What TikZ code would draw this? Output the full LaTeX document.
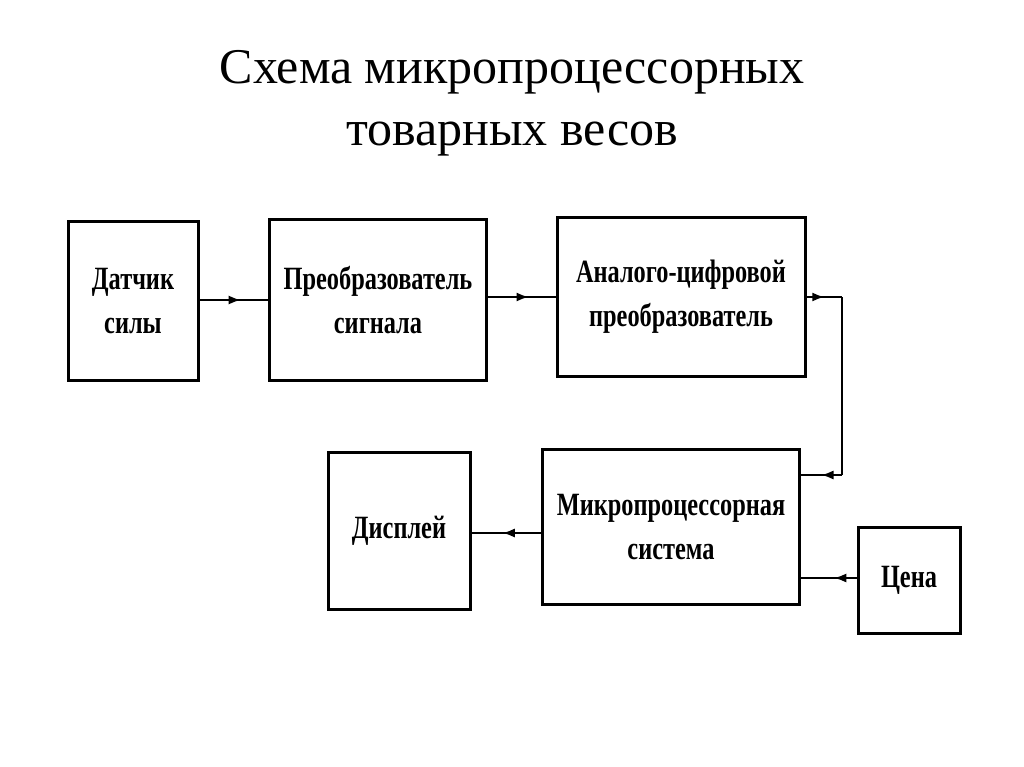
\documentclass[tikz,border=0pt]{standalone}
\usepackage{fontspec}
\setmainfont{Liberation Serif}
\usetikzlibrary{decorations.markings,arrows.meta}
\newcommand{\bt}[1]{\scalebox{0.84}[1.12]{\bfseries #1}}
\begin{document}
\begin{tikzpicture}[x=1pt,y=-1pt,
  blk/.style={draw,line width=3pt,align=center,font=\fontsize{29}{44}\selectfont,inner sep=0pt},
  conn/.style={line width=1.6pt,postaction={decorate},decoration={markings,mark=at position #1 with {\arrow{Latex[length=12pt,width=9pt]}}}}]
\useasboundingbox (0,0) rectangle (1024,767);
\node[font=\fontsize{50}{62}\selectfont,align=center] (title) at (512,103) {Схема микропроцессорных\\товарных весов};
\node[blk,minimum width=130,minimum height=159] (d) at (133,301) {\bt{Датчик}\\\bt{силы}};
\node[blk,minimum width=217,minimum height=160] (p) at (378,300) {\bt{Преобразователь}\\\bt{сигнала}};
\node[blk,minimum width=248,minimum height=159] (a) at (681,297) {\bt{Аналого-цифровой}\\\bt{преобразователь}};
\node[blk,minimum width=257,minimum height=155] (m) at (671,527) {\bt{Микропроцессорная}\\\bt{система}};
\node[blk,minimum width=142,minimum height=157] (s) at (399,531) {\bt{Дисплей}};
\node[blk,minimum width=102,minimum height=106] (c) at (909,580) {\bt{Цена}};
\coordinate (k1) at (842,297);
\coordinate (k2) at (842,475);
\draw[conn=0.6] (d.east|-0,300) -- (p.west|-0,300);
\draw[conn=0.6] (p.east|-0,297) -- (a.west|-0,297);
\draw[conn=0.5] (a.east) -- (k1);
\draw[line width=1.6pt] (k1) -- (k2);
\draw[conn=0.5] (k2) -- (m.east|-k2);
\draw[conn=0.55] (m.west|-0,533) -- (s.east|-0,533);
\draw[conn=0.4] (c.west|-0,578) -- (m.east|-0,578);
\end{tikzpicture}
\end{document}
